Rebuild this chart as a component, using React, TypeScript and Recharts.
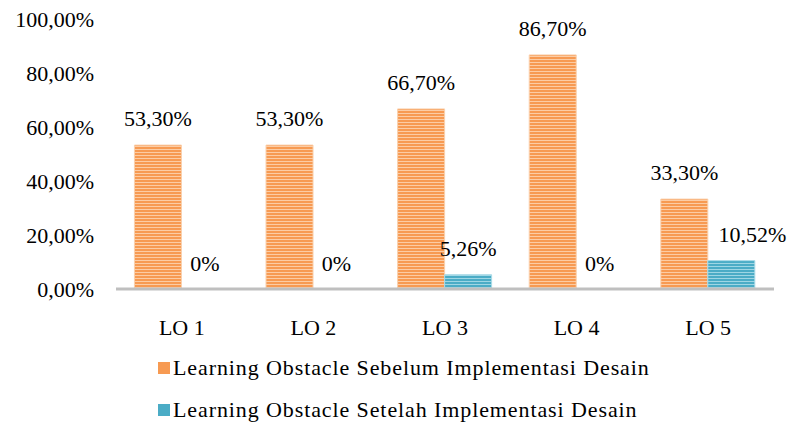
import { BarChart, Bar, XAxis, YAxis } from "recharts";

const categories = ["LO 1", "LO 2", "LO 3", "LO 4", "LO 5"];
const sebelum = [53.3, 53.3, 66.7, 86.7, 33.3];
const setelah = [0, 0, 5.26, 0, 10.52];
const yTicks = [0, 20, 40, 60, 80, 100];

const seriesNames = [
  "Learning Obstacle Sebelum Implementasi Desain",
  "Learning Obstacle Setelah Implementasi Desain",
];

const data = categories.map((name, i) => ({
  name,
  sebelum: sebelum[i],
  setelah: setelah[i],
}));

const FONT = "'Liberation Serif', 'Times New Roman', serif";
const colors = ["#F79A52", "#4BACC6"];

const fmtTick = (v: number) => v.toFixed(2).replace(".", ",") + "%";
const fmtLabel = (v: number) =>
  v === 0 ? "0%" : v.toFixed(2).replace(".", ",") + "%";

const LabelText = ({ x, y, text }: { x: number; y: number; text: string }) => (
  <text
    x={x}
    y={y}
    textAnchor="middle"
    fontSize={22}
    fontFamily={FONT}
    style={{ fontFamily: FONT }}
    fill="#000"
  >
    {text}
  </text>
);

// orange label; also draws the "0%" for the (invisible) zero-height blue bar next to it
const orangeLabel = (props: any) => {
  const { x, y, width, height, value, index } = props;
  if (x == null || y == null) return null;
  return (
    <g>
      <LabelText x={x + width / 2} y={y - 19} text={fmtLabel(Number(value))} />
      {setelah[index] === 0 && (
        <LabelText x={x + width * 1.5} y={y + height - 18} text={fmtLabel(0)} />
      )}
    </g>
  );
};

const blueLabel = (props: any) => {
  const { x, y, width, value } = props;
  if (x == null || y == null || Number(value) === 0) return null;
  const cat = props.payload?.name;
  const idx = cat != null ? categories.indexOf(cat) : setelah.indexOf(Number(value));
  const dx = idx === categories.length - 1 ? 21 : 0;
  return <LabelText x={x + width / 2 + dx} y={y - 19} text={fmtLabel(Number(value))} />;
};

function LegendBox() {
  return (
    <div
      style={{
        fontFamily: FONT,
        fontSize: 22,
        letterSpacing: 0.9,
        color: "#000",
      }}
    >
      {seriesNames.map((n, i) => (
        <div
          key={n}
          style={{ display: "flex", alignItems: "center", height: 42 }}
        >
          <span
            style={{
              width: 12,
              height: 12,
              background: colors[i],
              marginRight: 3,
              display: "inline-block",
            }}
          />
          {n}
        </div>
      ))}
    </div>
  );
}

export default function App() {
  return (
    <div
      style={{
        position: "absolute",
        left: 0,
        top: 0,
        width: 791,
        height: 423,
        background: "#fff",
      }}
    >
      <BarChart
        width={791}
        height={423}
        data={data}
        margin={{ top: 19, right: 17, bottom: 94, left: 0 }}
        barCategoryGap="14%"
        barGap={0}
      >
        <defs>
          <pattern id="orangeStripes" width="3" height="3" patternUnits="userSpaceOnUse">
            <rect width="3" height="3" fill="#F79A52" />
            <rect y="2" width="3" height="1" fill="#FCCCA4" />
          </pattern>
          <pattern id="blueStripes" width="3" height="3" patternUnits="userSpaceOnUse">
            <rect width="3" height="3" fill="#4BACC6" />
            <rect y="2" width="3" height="1" fill="#9ED6E4" />
          </pattern>
        </defs>
        <XAxis
          dataKey="name"
          tickLine={false}
          tickSize={0}
          tickMargin={30}
          height={40}
          axisLine={{ stroke: "#BFBFBF", strokeWidth: 3 }}
          tick={{ fontSize: 22, fill: "#000", fontFamily: FONT }}
        />
        <YAxis
          domain={[0, 100]}
          ticks={yTicks}
          tickFormatter={fmtTick}
          tickLine={false}
          axisLine={false}
          tickSize={0}
          tickMargin={22}
          width={116}
          tick={{ fontSize: 22, fill: "#000", fontFamily: FONT }}
        />
        <Bar
          dataKey="sebelum"
          name={seriesNames[0]}
          fill="url(#orangeStripes)"
          stroke="#FAD0AC"
          strokeWidth={1}
          isAnimationActive={false}
          label={orangeLabel}
        />
        <Bar
          dataKey="setelah"
          name={seriesNames[1]}
          fill="url(#blueStripes)"
          stroke="#A8DAE7"
          strokeWidth={1}
          isAnimationActive={false}
          label={blueLabel}
        />
      </BarChart>
      <div style={{ position: "absolute", left: 158, top: 347 }}>
        <LegendBox />
      </div>
    </div>
  );
}
